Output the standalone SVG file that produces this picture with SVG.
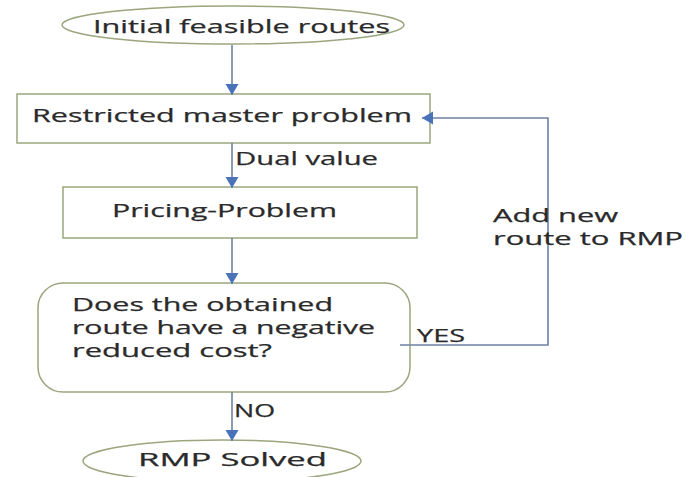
<svg xmlns="http://www.w3.org/2000/svg" width="685" height="477" viewBox="0 0 685 477">
  <style>
    .shape { fill: #ffffff; stroke: #9ba67e; stroke-width: 1.5; }
    .conn { fill: none; stroke: #6f82a3; stroke-width: 1.6; }
    .lbl { font-family: "Open Sans", "Liberation Sans", sans-serif; font-size: 18.5px; fill: #2a2a2a; stroke: #2a2a2a; stroke-width: 0.25; }
  </style>
  <defs>
    <marker id="arr" markerUnits="userSpaceOnUse" markerWidth="16" markerHeight="16" refX="11" refY="7" orient="auto">
      <path d="M0,0.5 L11,7 L0,13.5 z" fill="#4a72b8"/>
    </marker>
  </defs>
  <rect width="685" height="477" fill="#ffffff"/>

  <g id="start">
    <ellipse class="shape" cx="233" cy="25" rx="171" ry="19"/>
    <text class="lbl" x="93" y="33" textLength="297" lengthAdjust="spacingAndGlyphs">Initial feasible routes</text>
  </g>

  <g id="rmp">
    <rect class="shape" x="17" y="94" width="413" height="49"/>
    <text class="lbl" x="32" y="122" textLength="380" lengthAdjust="spacingAndGlyphs">Restricted master problem</text>
  </g>

  <g id="pricing">
    <rect class="shape" x="63" y="187" width="354" height="51"/>
    <text class="lbl" x="112" y="217" textLength="225" lengthAdjust="spacingAndGlyphs">Pricing-Problem</text>
  </g>

  <g id="decision">
    <rect class="shape" x="38" y="283" width="372" height="109" rx="25" ry="25"/>
    <text class="lbl" x="72" y="311" textLength="261" lengthAdjust="spacingAndGlyphs">Does the obtained</text>
    <text class="lbl" x="72" y="334" textLength="303" lengthAdjust="spacingAndGlyphs">route have a negative</text>
    <text class="lbl" x="72" y="357" textLength="200" lengthAdjust="spacingAndGlyphs">reduced cost?</text>
  </g>

  <g id="end">
    <ellipse class="shape" cx="222" cy="461" rx="139" ry="21"/>
    <text class="lbl" x="138" y="466" textLength="189" lengthAdjust="spacingAndGlyphs">RMP Solved</text>
  </g>

  <g id="connectors">
    <line class="conn" x1="232" y1="45" x2="232" y2="95" marker-end="url(#arr)"/>
    <line class="conn" x1="232" y1="143" x2="232" y2="188" marker-end="url(#arr)"/>
    <line class="conn" x1="232" y1="238" x2="232" y2="284" marker-end="url(#arr)"/>
    <line class="conn" x1="232" y1="392" x2="232" y2="441" marker-end="url(#arr)"/>
    <path class="conn" d="M400,345 H548 V118 H422" marker-end="url(#arr)"/>
    <text class="lbl" x="235" y="165" textLength="143" lengthAdjust="spacingAndGlyphs">Dual value</text>
    <text class="lbl" x="493" y="222" textLength="125" lengthAdjust="spacingAndGlyphs">Add new</text>
    <text class="lbl" x="493" y="245" textLength="190" lengthAdjust="spacingAndGlyphs">route to RMP</text>
    <text class="lbl" x="417" y="342" textLength="48" lengthAdjust="spacingAndGlyphs">YES</text>
    <text class="lbl" x="234" y="417" textLength="41" lengthAdjust="spacingAndGlyphs">NO</text>
  </g>
</svg>
